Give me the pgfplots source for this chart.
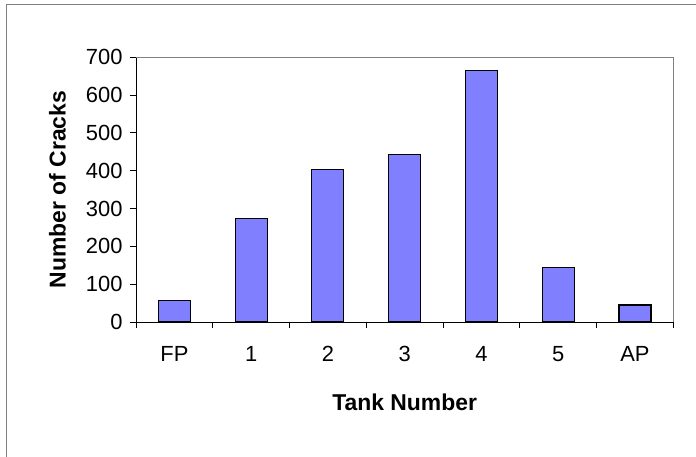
\documentclass[border=0pt]{standalone}
\usepackage{pgfplots}
\pgfplotsset{compat=1.18}
\usepackage{fontspec}
\setmainfont{Liberation Sans}
\definecolor{barfill}{RGB}{128,128,255}
\definecolor{framegray}{RGB}{128,128,128}
\begin{document}
\begin{tikzpicture}
\path[use as bounding box] (0bp,0bp) rectangle (696bp,457bp);
\draw[color=framegray, line width=1bp] (6bp,-20bp) -- (6bp,452bp) -- (720bp,452bp);
\begin{axis}[
  at={(136bp,135bp)}, anchor=south west,
  scale only axis, width=537.3bp, height=264.7bp,
  xmin=-0.5, xmax=6.5, ymin=0, ymax=700,
  clip=false,
  axis lines*=left,
  axis line style={black, line width=1bp, -},
  xtick={0,...,6}, xticklabels={FP,1,2,3,4,5,AP},
  major x tick style={draw=none},
  minor xtick={-0.5,0.5,...,6.5},
  ytick={0,100,...,700},
  tick align=outside,
  major tick length=6bp, minor tick length=6bp,
  tick style={black, line width=1bp},
  /pgf/number format/assume math mode=true,
  ticklabel style={font=\fontsize{22}{26}\selectfont},
  xticklabel style={yshift=-15bp},
  yticklabel style={xshift=-4bp},
  xlabel={Tank Number}, ylabel={Number of Cracks},
  label style={font=\fontsize{23}{27}\selectfont\bfseries},
  xlabel style={at={(axis description cs:0.5,-0.302)}, anchor=center},
  ylabel style={at={(axis description cs:-0.146,0.5)}, anchor=center},
]
\addplot[ybar, bar width=32bp, fill=barfill, draw=black, line width=1.2bp]
  coordinates {(0,56) (1,273) (2,404) (3,442) (4,665) (5,145) (6,45)};
\draw[color=framegray, line width=1bp] (rel axis cs:0,1) -- (rel axis cs:1,1) -- (rel axis cs:1,0);
\end{axis}
\end{tikzpicture}
\end{document}
